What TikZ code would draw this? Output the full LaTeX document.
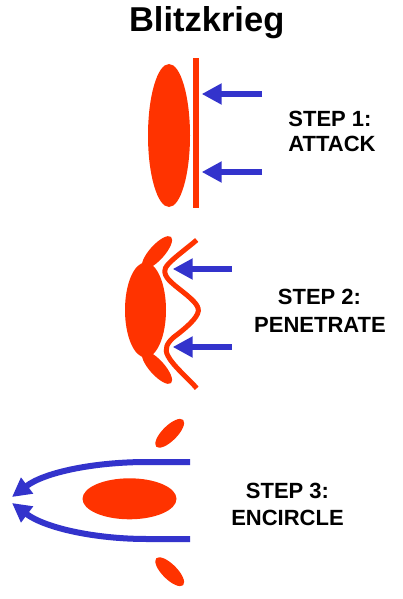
\documentclass[tikz,border=0pt]{standalone}
\usepackage{fontspec}
\setmainfont{Liberation Sans}
\usetikzlibrary{shapes.geometric,arrows.meta}
\definecolor{bred}{RGB}{255,51,0}
\definecolor{bblue}{RGB}{51,51,204}
\begin{document}
\begin{tikzpicture}[x=1pt,y=-1pt,
  blob/.style={ellipse,fill=bred,draw=none,inner sep=0pt},
  push/.style={draw=bblue,line width=6pt,-{Triangle[length=20pt,width=20pt]}},
  front/.style={draw=bred,line width=5pt},
  title/.style={font=\fontsize{34.5}{40}\selectfont\bfseries,anchor=base,inner sep=0pt},
  label/.style={font=\fontsize{22}{25}\selectfont\bfseries,anchor=base,inner sep=0pt}]
\useasboundingbox (0,0) rectangle (403,599);
\fill[white] (0,0) rectangle (403,599);
% title
\node[title] (t) at (206.7,31.7) {Blitzkrieg};
% step 1
\node[blob,minimum width=42pt,minimum height=143pt] (e1) at (169,135.5) {};
\node[rectangle,fill=bred,inner sep=0pt,minimum width=6pt,minimum height=150pt] (bar) at (196,133) {};
\coordinate (a1s) at (262,94);
\coordinate (a1t) at (201.7,94);
\coordinate (b1s) at (262,172);
\coordinate (b1t) at (201.7,172);
\draw[push] (a1s) -- (a1t);
\draw[push] (b1s) -- (b1t);
\node[label] (s1a) at (330,126.7) {STEP 1:};
\node[label] (s1b) at (332,151.7) {ATTACK};
% step 2
\node[blob,minimum width=41pt,minimum height=95pt] (e2) at (145.5,310) {};
\node[blob,minimum width=42pt,minimum height=15pt,rotate=48] (e2u) at (157,252.5) {};
\node[blob,minimum width=42pt,minimum height=15pt,rotate=-48] (e2d) at (157,367.5) {};
\draw[front] (196.7,240) .. controls (185,250) and (168,262) .. (165.5,268)
  .. controls (163,275) and (168,280) .. (178,288)
  .. controls (192,299) and (199,305) .. (198.3,311)
  .. controls (197.5,318) and (186,328) .. (174,337)
  .. controls (167,343) and (164,349) .. (168,356)
  .. controls (173,366) and (190,380) .. (196.7,388.3);
\coordinate (a2s) at (231.7,269);
\coordinate (a2t) at (172.7,269);
\coordinate (b2s) at (231.7,347);
\coordinate (b2t) at (172.7,347);
\draw[push] (a2s) -- (a2t);
\draw[push] (b2s) -- (b2t);
\node[label] (s2a) at (319.5,304.3) {STEP 2:};
\node[label] (s2b) at (320,332.3) {PENETRATE};
% step 3
\node[blob,minimum width=94pt,minimum height=41pt] (e3) at (129.5,498.8) {};
\node[blob,minimum width=38pt,minimum height=15pt,rotate=45] (e3u) at (169.7,433.3) {};
\node[blob,minimum width=38pt,minimum height=15pt,rotate=-45] (e3d) at (169.7,571.7) {};
\coordinate (a3s) at (190,462);
\coordinate (a3m) at (147,462);
\coordinate (a3t) at (12,497);
\coordinate (b3s) at (190,539);
\coordinate (b3m) at (147,539);
\coordinate (b3t) at (12,503);
\draw[push,-{Triangle[length=19pt,width=19pt]}] (a3s) -- (a3m) .. controls (95,462) and (45,472) .. (a3t);
\draw[push,-{Triangle[length=19pt,width=19pt]}] (b3s) -- (b3m) .. controls (95,539) and (45,528) .. (b3t);
\node[label] (s3a) at (287.5,498.3) {STEP 3:};
\node[label] (s3b) at (287.5,525.7) {ENCIRCLE};
\end{tikzpicture}
\end{document}
